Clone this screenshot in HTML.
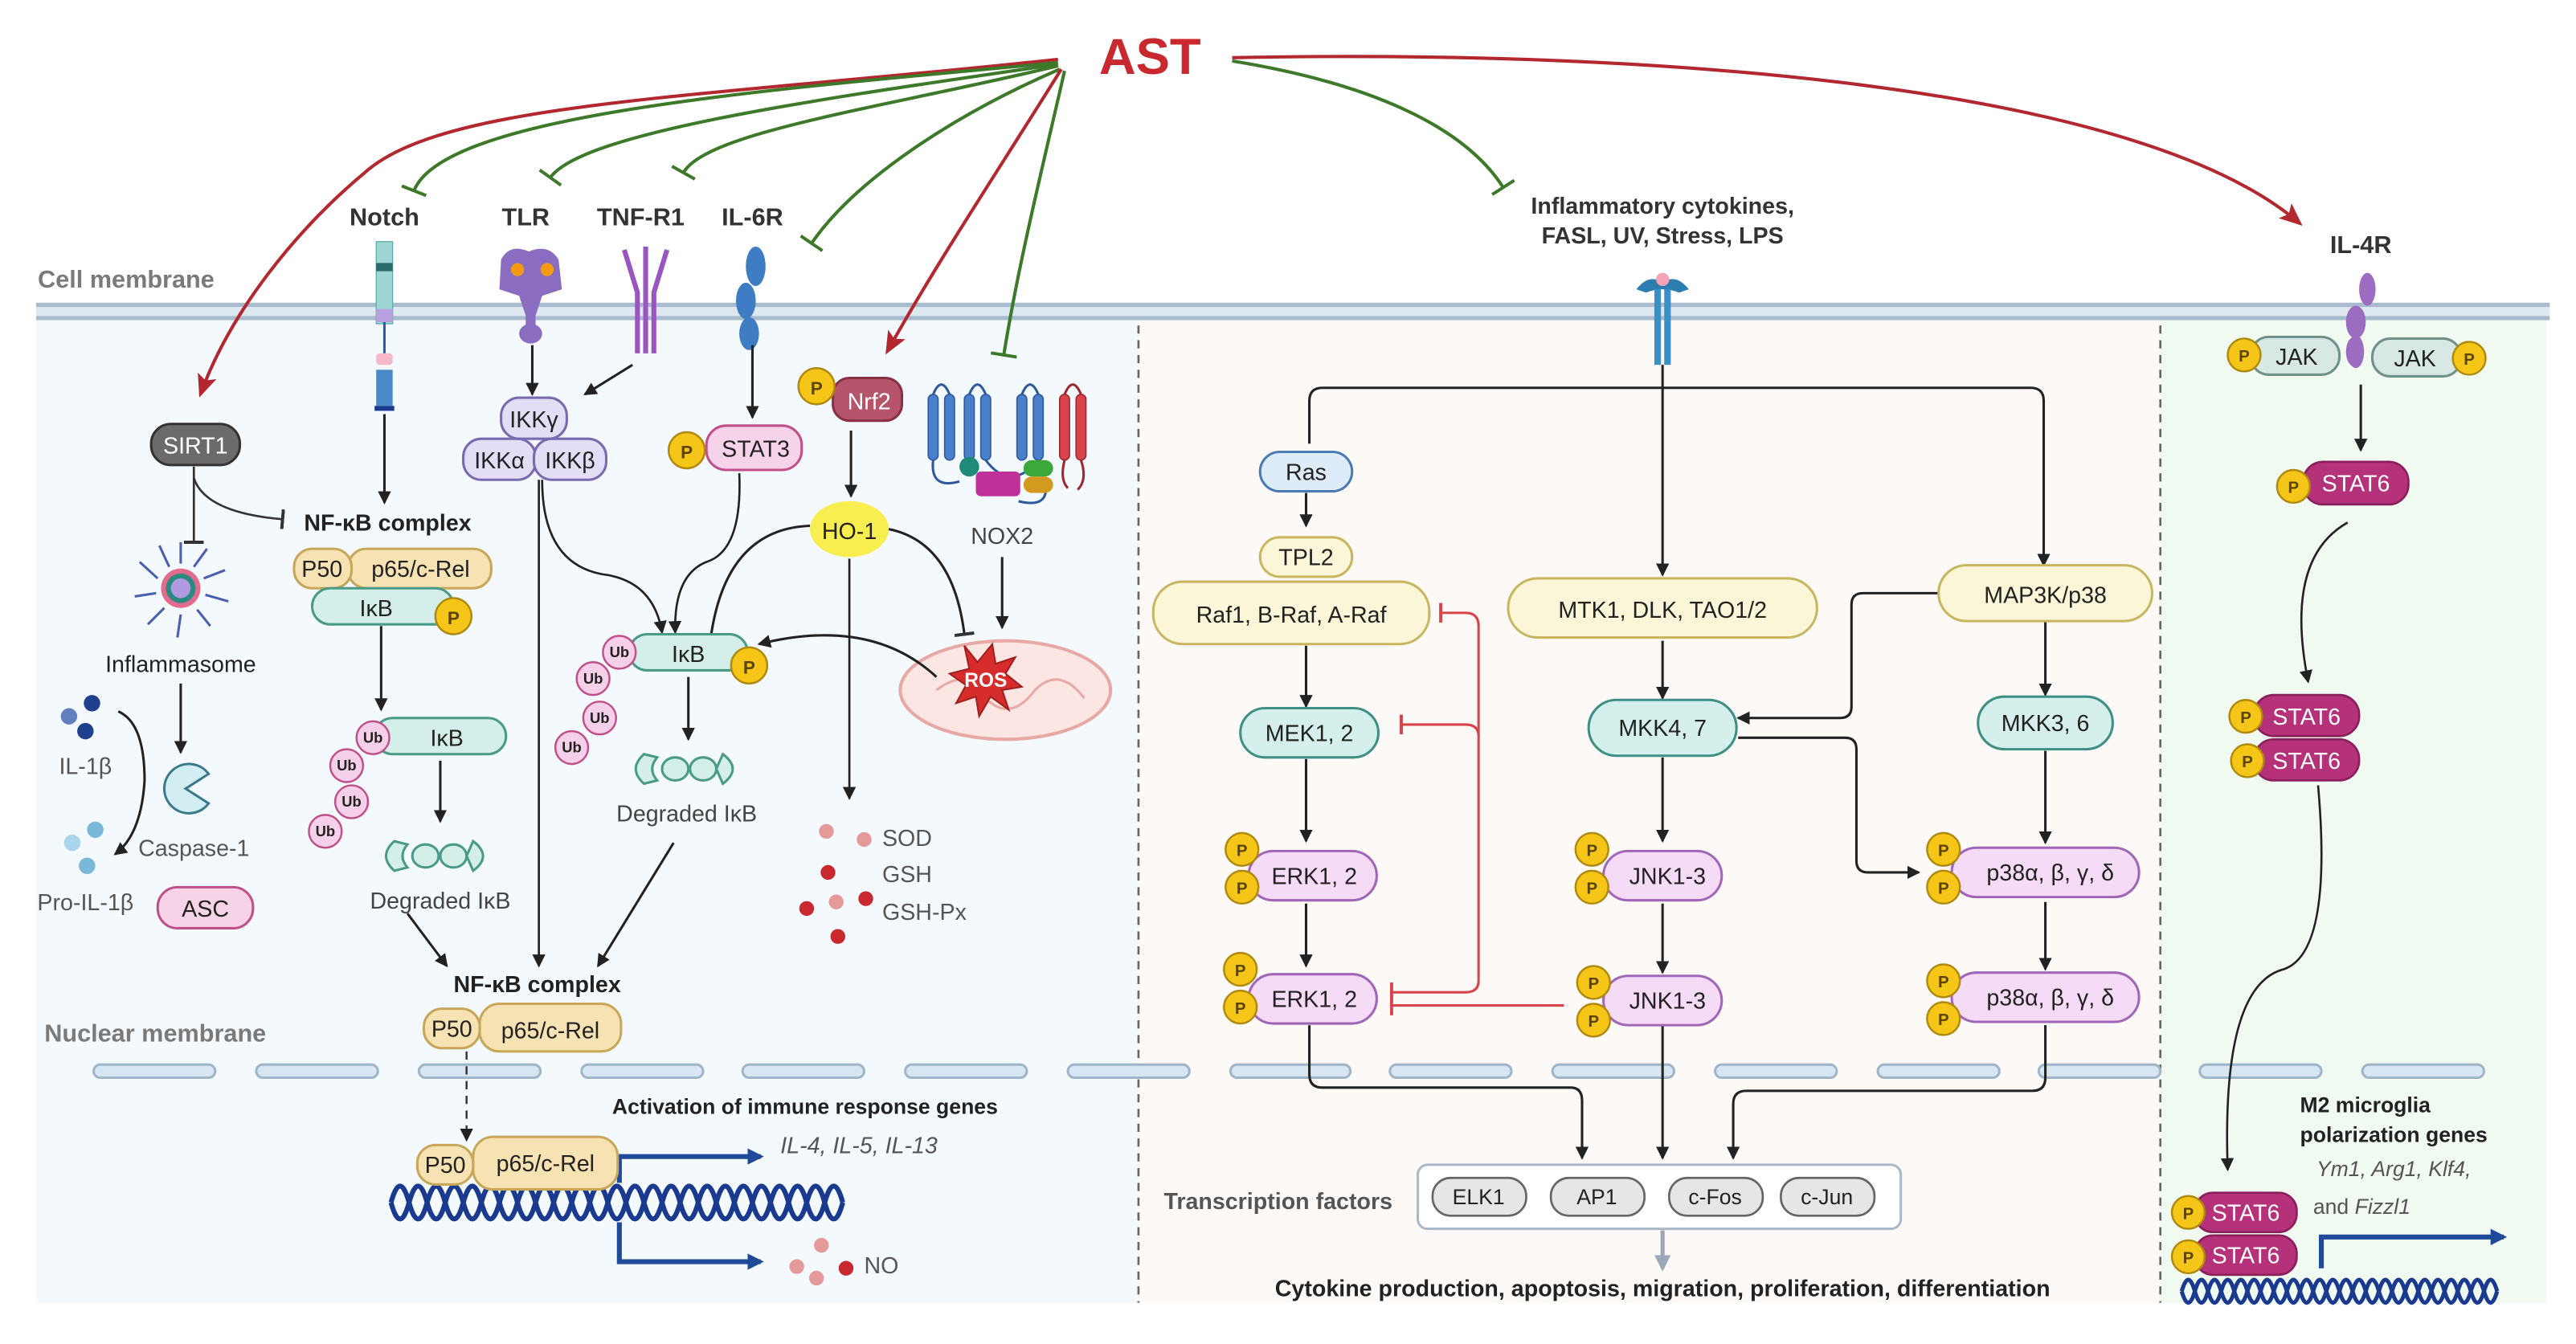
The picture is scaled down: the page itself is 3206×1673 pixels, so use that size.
<!DOCTYPE html>
<html><head><meta charset="utf-8"><style>
html,body{margin:0;padding:0;background:#fff;overflow:hidden;}
svg{display:block;}
text{font-family:"Liberation Sans",sans-serif;}
</style></head><body>
<svg width="3206" height="1673" viewBox="0 0 1568 818" xmlns="http://www.w3.org/2000/svg">
<defs>
<marker id="ak" markerWidth="8" markerHeight="8" refX="7" refY="4" orient="auto" markerUnits="userSpaceOnUse"><path d="M0,0 L8,4 L0,8 z" fill="#222"/></marker>
<marker id="ar" markerWidth="14" markerHeight="12" refX="12" refY="6" orient="auto" markerUnits="userSpaceOnUse"><path d="M0,0 L14,6 L0,12 L3,6 z" fill="#b3282f"/></marker>
<marker id="ab" markerWidth="10" markerHeight="10" refX="8" refY="5" orient="auto" markerUnits="userSpaceOnUse"><path d="M0,0 L10,5 L0,10 z" fill="#1f4a9a"/></marker>
<marker id="ag" markerWidth="10" markerHeight="10" refX="8" refY="5" orient="auto" markerUnits="userSpaceOnUse"><path d="M0,0 L10,5 L0,10 z" fill="#9aa8b8"/></marker>
<marker id="tg" markerWidth="2" markerHeight="16" refX="1" refY="8" orient="auto" markerUnits="userSpaceOnUse"><rect x="0" y="0" width="2" height="16" fill="#3c7a2a"/></marker>
<marker id="tk" markerWidth="2" markerHeight="12" refX="1" refY="6" orient="auto" markerUnits="userSpaceOnUse"><rect x="0" y="0" width="2" height="12" fill="#333"/></marker>
<marker id="trd" markerWidth="2" markerHeight="12" refX="1" refY="6" orient="auto" markerUnits="userSpaceOnUse"><rect x="0" y="0" width="2" height="12" fill="#d9444a"/></marker>
</defs>

<rect x="22" y="192" width="671" height="601" fill="#f3f9fd"/>
<rect x="693" y="192" width="622" height="601" fill="#fdf9f6"/>
<rect x="1315" y="192" width="235" height="601" fill="#f1faf1"/>
<rect x="22" y="184" width="1530" height="11" fill="#dde8f1"/>
<line x1="22" y1="185.5" x2="1552" y2="185.5" stroke="#a9bccd" stroke-width="2.5"/>
<line x1="22" y1="193.5" x2="1552" y2="193.5" stroke="#a9bccd" stroke-width="2.5"/>
<line x1="693" y1="198" x2="693" y2="793" stroke="#666" stroke-width="1.3" stroke-dasharray="5,4"/>
<line x1="1315" y1="198" x2="1315" y2="793" stroke="#666" stroke-width="1.3" stroke-dasharray="5,4"/>
<g fill="#d7e6f2" stroke="#9fb6ca" stroke-width="1.5">
<rect x="57" y="648" width="74" height="8" rx="4"/><rect x="156" y="648" width="74" height="8" rx="4"/><rect x="255" y="648" width="74" height="8" rx="4"/><rect x="354" y="648" width="74" height="8" rx="4"/><rect x="452" y="648" width="74" height="8" rx="4"/><rect x="551" y="648" width="74" height="8" rx="4"/><rect x="650" y="648" width="74" height="8" rx="4"/><rect x="749" y="648" width="73" height="8" rx="4"/><rect x="846" y="648" width="74" height="8" rx="4"/><rect x="945" y="648" width="74" height="8" rx="4"/><rect x="1044" y="648" width="74" height="8" rx="4"/><rect x="1143" y="648" width="74" height="8" rx="4"/><rect x="1241" y="648" width="74" height="8" rx="4"/><rect x="1339" y="648" width="74" height="8" rx="4"/><rect x="1438" y="648" width="74" height="8" rx="4"/>
</g>

<text x="700" y="45" font-size="31" font-weight="bold" fill="#c8282e" text-anchor="middle">AST</text>
<g fill="none" stroke-width="2">
<path d="M644,36 C420,60 270,62 222,105 C180,140 140,190 122,240" stroke="#b3282f" marker-end="url(#ar)"/>
<path d="M644,38 C460,55 270,70 252,116" stroke="#3c7a2a" marker-end="url(#tg)"/>
<path d="M644,39 C500,60 355,80 335,108" stroke="#3c7a2a" marker-end="url(#tg)"/>
<path d="M644,40 C540,65 430,80 416,105" stroke="#3c7a2a" marker-end="url(#tg)"/>
<path d="M645,42 C580,70 520,110 494,148" stroke="#3c7a2a" marker-end="url(#tg)"/>
<path d="M646,42 C610,100 570,160 540,214" stroke="#b3282f" marker-end="url(#ar)"/>
<path d="M648,43 C635,100 620,160 611,216" stroke="#3c7a2a" marker-end="url(#tg)"/>
<path d="M750,37 C830,50 890,75 915,114" stroke="#3c7a2a" marker-end="url(#tg)"/>
<path d="M750,35 C1000,30 1300,50 1400,136" stroke="#b3282f" marker-end="url(#ar)"/>
</g>

<g font-size="15" font-weight="bold" fill="#333" text-anchor="middle">
<text x="234" y="137">Notch</text><text x="320" y="137">TLR</text><text x="390" y="137">TNF-R1</text><text x="458" y="137">IL-6R</text>
<text x="1012" y="130" font-size="14">Inflammatory cytokines,</text>
<text x="1012" y="148" font-size="14">FASL, UV, Stress, LPS</text>
<text x="1437" y="154">IL-4R</text>
</g>
<text x="23" y="175" font-size="15" font-weight="bold" fill="#7a7a7a">Cell membrane</text>
<text x="27" y="634" font-size="15" font-weight="bold" fill="#7a7a7a">Nuclear membrane</text>

<g>
<rect x="229" y="147" width="10" height="50" fill="#9fd5d3" stroke="#5aa" stroke-width="0.6"/>
<rect x="229" y="160" width="10" height="5" fill="#2a6a6a"/>
<rect x="229" y="188" width="10" height="8" fill="#b8a0e0"/>
<line x1="234" y1="196" x2="234" y2="215" stroke="#2a5fa0" stroke-width="1.5"/>
<rect x="229" y="215" width="10" height="7" rx="2" fill="#f5b9c8"/>
<rect x="229" y="225" width="10" height="22" fill="#4a8ac8"/>
<rect x="228" y="247" width="12" height="3" fill="#1a3a8f"/>
</g>
<g fill="#8a6cc0">
<path d="M305,158 Q310,148 322,153 Q334,148 340,158 L342,176 L330,180 L326,192 L326,200 L320,200 L320,192 L316,180 L304,176 Z"/>
<ellipse cx="323" cy="203" rx="7" ry="6"/>
<circle cx="315" cy="164" r="4" fill="#f39a12"/><circle cx="333" cy="164" r="4" fill="#f39a12"/>
</g>
<g stroke="#9b55bf" stroke-width="3" fill="none">
<path d="M380,152 L388,178 L388,215"/><path d="M406,152 L398,178 L398,215"/><line x1="393" y1="150" x2="393" y2="215"/>
</g>
<g fill="#3e7cc4"><ellipse cx="460" cy="162" rx="6" ry="12"/><ellipse cx="454" cy="183" rx="6" ry="11"/><ellipse cx="456" cy="203" rx="6" ry="10"/></g>
<g>
<path d="M996,176 Q1004,166 1012,172 Q1020,166 1028,176 L1022,178 Q1012,174 1002,178 Z" fill="#2c7db0"/>
<rect x="1007" y="176" width="4" height="46" fill="#3a8fc4"/><rect x="1013" y="176" width="4" height="46" fill="#3a8fc4"/>
<circle cx="1012" cy="170" r="4" fill="#f5a3b5"/>
</g>
<g fill="#9b6cc0"><ellipse cx="1441" cy="176" rx="5" ry="10"/><ellipse cx="1434" cy="196" rx="6" ry="10"/><ellipse cx="1434" cy="214" rx="5" ry="10"/></g>

<g font-size="14" text-anchor="middle" fill="#222">
<rect x="92" y="258" width="54" height="25" rx="12" fill="#6b6b6b" stroke="#333" stroke-width="1.5"/>
<text x="119" y="276" fill="#fff">SIRT1</text>
<text x="236" y="323" font-weight="bold">NF-κB complex</text>
<rect x="212" y="334" width="87" height="24" rx="11" fill="#f6e2b3" stroke="#c9a75a" stroke-width="1.5"/>
<rect x="179" y="334" width="35" height="24" rx="11" fill="#f6e2b3" stroke="#c9a75a" stroke-width="1.5"/>
<text x="196" y="351">P50</text><text x="256" y="351">p65/c-Rel</text>
<rect x="190" y="358" width="86" height="22" rx="11" fill="#d4efe9" stroke="#4a9a88" stroke-width="1.5"/>
<text x="229" y="375">IκB</text>
<circle cx="276" cy="375" r="11" fill="#f5c518" stroke="#b08a10" stroke-width="1.2"/>
<text x="276" y="380" font-size="11" font-weight="bold" fill="#5a4500">P</text>

<g stroke="#4a5fb0" stroke-width="1.5">
<line x1="110" y1="343" x2="110" y2="330"/><line x1="118" y1="345" x2="126" y2="334"/><line x1="124" y1="352" x2="137" y2="347"/><line x1="125" y1="362" x2="139" y2="366"/><line x1="120" y1="371" x2="128" y2="381"/><line x1="110" y1="374" x2="108" y2="388"/><line x1="100" y1="370" x2="90" y2="380"/><line x1="95" y1="361" x2="82" y2="363"/><line x1="96" y1="352" x2="85" y2="342"/><line x1="103" y1="345" x2="97" y2="332"/>
</g>
<circle cx="110" cy="358" r="12" fill="#e36b8e"/><circle cx="110" cy="358" r="9" fill="#2a8a82"/><circle cx="110" cy="358" r="6" fill="#b09ae0"/>
<text x="110" y="409">Inflammasome</text>
<line x1="118" y1="284" x2="118" y2="330" stroke="#333" stroke-width="1.3" marker-end="url(#tk)"/>
<path d="M118,291 Q125,312 172,316" fill="none" stroke="#333" stroke-width="1.3" marker-end="url(#tk)"/>
<line x1="110" y1="416" x2="110" y2="458" stroke="#222" stroke-width="1.5" marker-end="url(#ak)"/>
<path d="M113,480 L127,471 A15,15 0 1 0 127,489 Z" fill="#d3eef3" stroke="#3a7a8a" stroke-width="1.5"/>
<text x="118" y="521" fill="#555">Caspase-1</text>
<circle cx="56" cy="428" r="5" fill="#1f3f8f"/><circle cx="42" cy="436" r="5" fill="#6080c0"/><circle cx="52" cy="445" r="5" fill="#1f3f8f"/>
<text x="52" y="471" fill="#555">IL-1β</text>
<path d="M72,433 Q88,440 88,475 Q86,508 70,520" fill="none" stroke="#222" stroke-width="1.5" marker-end="url(#ak)"/>
<circle cx="58" cy="505" r="5" fill="#7ab8da"/><circle cx="44" cy="513" r="5" fill="#a9d6ea"/><circle cx="53" cy="527" r="5" fill="#7ab8da"/>
<text x="52" y="554" fill="#555">Pro-IL-1β</text>
<rect x="96" y="540" width="58" height="25" rx="12" fill="#f7d3e8" stroke="#c0508a" stroke-width="1.5"/>
<text x="125" y="558">ASC</text>

<line x1="234" y1="252" x2="234" y2="306" stroke="#222" stroke-width="1.5" marker-end="url(#ak)"/>
<line x1="232" y1="381" x2="232" y2="432" stroke="#222" stroke-width="1.5" marker-end="url(#ak)"/>
<rect x="228" y="437" width="80" height="22" rx="11" fill="#d4efe9" stroke="#4a9a88" stroke-width="1.5"/>
<text x="272" y="454">IκB</text>
<g font-size="9" font-weight="bold">
<circle cx="227" cy="449" r="10" fill="#f6d0e8" stroke="#c0508a" stroke-width="1.2"/><text x="227" y="452">Ub</text>
<circle cx="211" cy="466" r="10" fill="#f6d0e8" stroke="#c0508a" stroke-width="1.2"/><text x="211" y="469">Ub</text>
<circle cx="214" cy="488" r="10" fill="#f6d0e8" stroke="#c0508a" stroke-width="1.2"/><text x="214" y="491">Ub</text>
<circle cx="198" cy="506" r="10" fill="#f6d0e8" stroke="#c0508a" stroke-width="1.2"/><text x="198" y="509">Ub</text>
</g>
<line x1="268" y1="463" x2="268" y2="500" stroke="#222" stroke-width="1.5" marker-end="url(#ak)"/>
<g fill="#d4efe9" stroke="#4a9a88" stroke-width="1.5">
<path d="M240,512 Q230,521 240,530 L248,528 Q242,521 248,514 Z"/>
<ellipse cx="259" cy="521" rx="8" ry="7"/><ellipse cx="276" cy="521" rx="8" ry="7"/>
<path d="M288,512 Q300,521 288,530 L284,521 Z"/>
</g>
<text x="268" y="553" fill="#444">Degraded IκB</text>
<line x1="248" y1="556" x2="272" y2="588" stroke="#222" stroke-width="1.5" marker-end="url(#ak)"/>

<line x1="324" y1="210" x2="324" y2="240" stroke="#222" stroke-width="1.5" marker-end="url(#ak)"/>
<line x1="385" y1="222" x2="356" y2="240" stroke="#222" stroke-width="1.5" marker-end="url(#ak)"/>
<rect x="305" y="242" width="40" height="25" rx="11" fill="#e3def5" stroke="#7a6ab0" stroke-width="1.5"/>
<text x="325" y="260">IKKγ</text>
<rect x="282" y="267" width="44" height="25" rx="11" fill="#e3def5" stroke="#7a6ab0" stroke-width="1.5"/>
<rect x="325" y="267" width="44" height="25" rx="11" fill="#e3def5" stroke="#7a6ab0" stroke-width="1.5"/>
<text x="304" y="285">IKKα</text><text x="347" y="285">IKKβ</text>
<line x1="328" y1="292" x2="328" y2="588" stroke="#222" stroke-width="1.3" marker-end="url(#ak)"/>
<path d="M330,292 Q330,345 370,350 Q398,355 403,385" fill="none" stroke="#222" stroke-width="1.3" marker-end="url(#ak)"/>

<line x1="458" y1="210" x2="458" y2="254" stroke="#222" stroke-width="1.5" marker-end="url(#ak)"/>
<rect x="430" y="259" width="58" height="27" rx="12" fill="#f7d3ea" stroke="#c0508a" stroke-width="1.5"/>
<text x="460" y="278">STAT3</text>
<circle cx="418" cy="274" r="11" fill="#f5c518" stroke="#b08a10" stroke-width="1.2"/>
<text x="418" y="279" font-size="11" font-weight="bold" fill="#5a4500">P</text>
<path d="M450,288 Q452,335 430,342 Q410,350 411,385" fill="none" stroke="#222" stroke-width="1.3" marker-end="url(#ak)"/>

<rect x="507" y="230" width="42" height="26" rx="10" fill="#b5546a" stroke="#8a3045" stroke-width="1.5"/>
<text x="529" y="249" fill="#fff">Nrf2</text>
<circle cx="497" cy="235" r="11" fill="#f5c518" stroke="#b08a10" stroke-width="1.2"/>
<text x="497" y="240" font-size="11" font-weight="bold" fill="#5a4500">P</text>
<line x1="518" y1="262" x2="518" y2="302" stroke="#222" stroke-width="1.5" marker-end="url(#ak)"/>
<ellipse cx="517" cy="322" rx="24" ry="17" fill="#f8ee4f"/>
<text x="517" y="328">HO-1</text>
<path d="M493,320 Q440,322 432,393" fill="none" stroke="#222" stroke-width="1.5" marker-end="url(#tk)"/>
<path d="M541,322 Q580,330 587,386" fill="none" stroke="#222" stroke-width="1.5" marker-end="url(#tk)"/>
<line x1="517" y1="340" x2="517" y2="486" stroke="#222" stroke-width="1.3" marker-end="url(#ak)"/>

<g fill="#4a7fcc" stroke="#2d5a9e" stroke-width="0.8">
<rect x="565" y="240" width="6" height="40" rx="3"/><rect x="575" y="240" width="6" height="40" rx="3"/><rect x="587" y="240" width="6" height="40" rx="3"/><rect x="597" y="240" width="6" height="40" rx="3"/><rect x="619" y="240" width="6" height="40" rx="3"/><rect x="629" y="240" width="6" height="40" rx="3"/>
</g>
<g fill="none" stroke="#2d5a9e" stroke-width="1.5"><path d="M568,240 Q573,228 578,240"/><path d="M590,240 Q595,228 600,240"/><path d="M622,240 Q627,228 632,240"/><path d="M600,280 Q615,300 632,280"/><path d="M568,280 Q566,298 584,293"/><path d="M636,292 Q640,310 620,305"/></g>
<g fill="#d9434a" stroke="#9a2a30" stroke-width="0.8"><rect x="645" y="240" width="6" height="40" rx="3"/><rect x="655" y="240" width="6" height="40" rx="3"/></g>
<path d="M648,240 Q653,228 658,240 M648,280 Q645,292 650,297 M658,280 Q662,292 656,298" fill="none" stroke="#9a2a30" stroke-width="1.5"/>
<circle cx="590" cy="284" r="6" fill="#1f8a78"/>
<rect x="594" y="287" width="27" height="15" rx="3" fill="#c0309a"/>
<rect x="623" y="280" width="18" height="10" rx="5" fill="#3aa83a"/>
<rect x="623" y="290" width="18" height="10" rx="5" fill="#d49a20"/>
<text x="610" y="331" fill="#444">NOX2</text>
<line x1="610" y1="339" x2="610" y2="382" stroke="#222" stroke-width="1.5" marker-end="url(#ak)"/>
<ellipse cx="612" cy="420" rx="64" ry="30" fill="#fbe6e4" stroke="#e8a8a4" stroke-width="2"/>
<path d="M570,420 Q590,405 600,425 Q615,440 630,420 Q645,405 660,425" fill="none" stroke="#e8a8a4" stroke-width="1.5"/>
<path d="M587,393 L595,403 L604,392 L606,404 L618,400 L612,410 L622,418 L610,420 L614,432 L603,424 L596,436 L594,424 L582,428 L588,417 L578,410 L590,407 Z" fill="#d72c2c" stroke="#a01f1f"/>
<text x="600" y="418" font-size="12" font-weight="bold" fill="#fff">ROS</text>
<path d="M570,412 Q530,375 462,392" fill="none" stroke="#222" stroke-width="1.5" marker-end="url(#ak)"/>
<rect x="383" y="386" width="72" height="22" rx="11" fill="#d4efe9" stroke="#4a9a88" stroke-width="1.5"/>
<text x="419" y="403">IκB</text>
<circle cx="456" cy="405" r="11" fill="#f5c518" stroke="#b08a10" stroke-width="1.2"/>
<text x="456" y="410" font-size="11" font-weight="bold" fill="#5a4500">P</text>
<g font-size="9" font-weight="bold">
<circle cx="377" cy="397" r="10" fill="#f6d0e8" stroke="#c0508a" stroke-width="1.2"/><text x="377" y="400">Ub</text>
<circle cx="361" cy="413" r="10" fill="#f6d0e8" stroke="#c0508a" stroke-width="1.2"/><text x="361" y="416">Ub</text>
<circle cx="365" cy="437" r="10" fill="#f6d0e8" stroke="#c0508a" stroke-width="1.2"/><text x="365" y="440">Ub</text>
<circle cx="348" cy="455" r="10" fill="#f6d0e8" stroke="#c0508a" stroke-width="1.2"/><text x="348" y="458">Ub</text>
</g>
<line x1="419" y1="412" x2="419" y2="450" stroke="#222" stroke-width="1.5" marker-end="url(#ak)"/>
<g fill="#d4efe9" stroke="#4a9a88" stroke-width="1.5">
<path d="M392,459 Q382,468 392,477 L400,475 Q394,468 400,461 Z"/>
<ellipse cx="411" cy="468" rx="8" ry="7"/><ellipse cx="428" cy="468" rx="8" ry="7"/>
<path d="M440,459 Q452,468 440,477 L436,468 Z"/>
</g>
<text x="418" y="500" fill="#444">Degraded IκB</text>
<line x1="410" y1="513" x2="364" y2="588" stroke="#222" stroke-width="1.5" marker-end="url(#ak)"/>
<circle cx="503" cy="506" r="4.5" fill="#e59a9a"/><circle cx="526" cy="511" r="4.5" fill="#e59a9a"/><circle cx="504" cy="531" r="4.5" fill="#c8282e"/>
<circle cx="491" cy="553" r="4.5" fill="#c8282e"/><circle cx="509" cy="549" r="4.5" fill="#e59a9a"/><circle cx="527" cy="547" r="4.5" fill="#c8282e"/><circle cx="510" cy="570" r="4.5" fill="#c8282e"/>
<g text-anchor="start" fill="#555"><text x="537" y="515">SOD</text><text x="537" y="537">GSH</text><text x="537" y="560">GSH-Px</text></g>

<text x="327" y="604" font-weight="bold">NF-κB complex</text>
<rect x="292" y="611" width="86" height="29" rx="12" fill="#f6e2b3" stroke="#c9a75a" stroke-width="1.5"/>
<rect x="258" y="614" width="34" height="24" rx="11" fill="#f6e2b3" stroke="#c9a75a" stroke-width="1.5"/>
<text x="275" y="631">P50</text><text x="335" y="632">p65/c-Rel</text>
<line x1="284" y1="640" x2="284" y2="694" stroke="#333" stroke-width="1.2" stroke-dasharray="5,4" marker-end="url(#ak)"/>
<text x="490" y="678" font-size="13" font-weight="bold">Activation of immune response genes</text>
<g fill="none" stroke="#1a3a8f" stroke-width="3">
<path d="M238,732 q5.5,-20 11,0 t11,0 t11,0 t11,0 t11,0 t11,0 t11,0 t11,0 t11,0 t11,0 t11,0 t11,0 t11,0 t11,0 t11,0 t11,0 t11,0 t11,0 t11,0 t11,0 t11,0 t11,0 t11,0 t11,0 t11,0"/>
<path d="M238,732 q5.5,20 11,0 t11,0 t11,0 t11,0 t11,0 t11,0 t11,0 t11,0 t11,0 t11,0 t11,0 t11,0 t11,0 t11,0 t11,0 t11,0 t11,0 t11,0 t11,0 t11,0 t11,0 t11,0 t11,0 t11,0 t11,0"/>
</g>
<path d="M377,720 V704 H463" fill="none" stroke="#1f4a9a" stroke-width="3" marker-end="url(#ab)"/>
<path d="M377,744 V768 H463" fill="none" stroke="#1f4a9a" stroke-width="3" marker-end="url(#ab)"/>
<rect x="288" y="692" width="88" height="32" rx="12" fill="#f6e2b3" stroke="#c9a75a" stroke-width="1.5"/>
<rect x="254" y="697" width="34" height="24" rx="11" fill="#f6e2b3" stroke="#c9a75a" stroke-width="1.5"/>
<text x="271" y="714">P50</text><text x="332" y="713">p65/c-Rel</text>
<text x="475" y="702" font-style="italic" fill="#555" text-anchor="start">IL-4, IL-5, IL-13</text>
<circle cx="485" cy="771" r="4.5" fill="#e59a9a"/><circle cx="500" cy="758" r="4.5" fill="#e59a9a"/><circle cx="497" cy="778" r="4.5" fill="#e59a9a"/><circle cx="515" cy="772" r="4.5" fill="#c8282e"/>
<text x="526" y="775" fill="#555" text-anchor="start">NO</text>

<g fill="none" stroke="#222" stroke-width="1.5">
<path d="M1012,222 V350" marker-end="url(#ak)"/>
<path d="M797,270 V244 Q797,236 805,236 H1236 Q1244,236 1244,244 V344" marker-end="url(#ak)"/>
<path d="M795,300 V320" marker-end="url(#ak)"/>
<path d="M795,393 V430" marker-end="url(#ak)"/>
<path d="M1012,390 V425" marker-end="url(#ak)"/>
<path d="M1245,378 V423" marker-end="url(#ak)"/>
<path d="M1180,361 H1134 Q1127,361 1127,368 V430 Q1127,437 1120,437 H1058" marker-end="url(#ak)"/>
<path d="M1058,449 H1123 Q1130,449 1130,456 V524 Q1130,531 1137,531 H1168" marker-end="url(#ak)"/>
<path d="M795,462 V512" marker-end="url(#ak)"/>
<path d="M1012,461 V512" marker-end="url(#ak)"/>
<path d="M1245,457 V513" marker-end="url(#ak)"/>
<path d="M795,550 V588" marker-end="url(#ak)"/>
<path d="M1012,550 V592" marker-end="url(#ak)"/>
<path d="M1245,549 V590" marker-end="url(#ak)"/>
<path d="M797,624 V654 Q797,662 805,662 H956 Q963,662 963,670 V705" marker-end="url(#ak)"/>
<path d="M1012,624 V705" marker-end="url(#ak)"/>
<path d="M1245,624 V656 Q1245,664 1237,664 H1063 Q1055,664 1055,672 V705" marker-end="url(#ak)"/>
</g>
<g fill="none" stroke="#d9444a" stroke-width="1.5">
<path d="M877,373 H892 Q900,373 900,381 V597 Q900,604 892,604 H847" marker-end="url(#trd)"/>
<path d="M900,448 Q900,441 892,441 H853" marker-end="url(#trd)"/>
<path d="M878,373 H877" marker-end="url(#trd)"/>
<path d="M952,612 H847" marker-end="url(#trd)"/>
</g>
<rect x="767" y="275" width="56" height="24" rx="12" fill="#deebf8" stroke="#4a7bb5" stroke-width="1.5"/><text x="795" y="292">Ras</text>
<rect x="767" y="327" width="56" height="24" rx="12" fill="#fbf6d8" stroke="#c8b660" stroke-width="1.5"/><text x="795" y="344">TPL2</text>
<rect x="702" y="354" width="168" height="38" rx="18" fill="#fbf6d8" stroke="#c8b660" stroke-width="1.5"/><text x="786" y="379">Raf1, B-Raf, A-Raf</text>
<rect x="918" y="352" width="188" height="36" rx="18" fill="#fbf6d8" stroke="#c8b660" stroke-width="1.5"/><text x="1012" y="376">MTK1, DLK, TAO1/2</text>
<rect x="1180" y="344" width="130" height="34" rx="17" fill="#fbf6d8" stroke="#c8b660" stroke-width="1.5"/><text x="1245" y="367">MAP3K/p38</text>
<rect x="755" y="431" width="84" height="30" rx="15" fill="#d4efec" stroke="#3f8f84" stroke-width="1.5"/><text x="797" y="451">MEK1, 2</text>
<rect x="967" y="426" width="90" height="34" rx="17" fill="#d4efec" stroke="#3f8f84" stroke-width="1.5"/><text x="1012" y="448">MKK4, 7</text>
<rect x="1204" y="424" width="82" height="32" rx="16" fill="#d4efec" stroke="#3f8f84" stroke-width="1.5"/><text x="1245" y="445">MKK3, 6</text>
<g stroke-width="1.5">
<rect x="760" y="518" width="78" height="30" rx="15" fill="#f5dbf5" stroke="#a066b8"/><text x="800" y="538">ERK1, 2</text>
<rect x="976" y="518" width="72" height="30" rx="15" fill="#f5dbf5" stroke="#a066b8"/><text x="1015" y="538">JNK1-3</text>
<rect x="1188" y="516" width="114" height="30" rx="15" fill="#f5dbf5" stroke="#a066b8"/><text x="1248" y="536">p38α, β, γ, δ</text>
<rect x="760" y="593" width="78" height="30" rx="15" fill="#f5dbf5" stroke="#a066b8"/><text x="800" y="613">ERK1, 2</text>
<rect x="976" y="594" width="72" height="30" rx="15" fill="#f5dbf5" stroke="#a066b8"/><text x="1015" y="614">JNK1-3</text>
<rect x="1188" y="592" width="114" height="30" rx="15" fill="#f5dbf5" stroke="#a066b8"/><text x="1248" y="612">p38α, β, γ, δ</text>
</g>
<g font-size="10" font-weight="bold" fill="#5a4500">
<circle cx="756" cy="517" r="10" fill="#f5c518" stroke="#b08a10" stroke-width="1.2"/><text x="756" y="521">P</text>
<circle cx="756" cy="540" r="10" fill="#f5c518" stroke="#b08a10" stroke-width="1.2"/><text x="756" y="544">P</text>
<circle cx="969" cy="517" r="10" fill="#f5c518" stroke="#b08a10" stroke-width="1.2"/><text x="969" y="521">P</text>
<circle cx="969" cy="540" r="10" fill="#f5c518" stroke="#b08a10" stroke-width="1.2"/><text x="969" y="544">P</text>
<circle cx="1183" cy="517" r="10" fill="#f5c518" stroke="#b08a10" stroke-width="1.2"/><text x="1183" y="521">P</text>
<circle cx="1183" cy="540" r="10" fill="#f5c518" stroke="#b08a10" stroke-width="1.2"/><text x="1183" y="544">P</text>
<circle cx="755" cy="590" r="10" fill="#f5c518" stroke="#b08a10" stroke-width="1.2"/><text x="755" y="594">P</text>
<circle cx="755" cy="613" r="10" fill="#f5c518" stroke="#b08a10" stroke-width="1.2"/><text x="755" y="617">P</text>
<circle cx="970" cy="598" r="10" fill="#f5c518" stroke="#b08a10" stroke-width="1.2"/><text x="970" y="602">P</text>
<circle cx="970" cy="621" r="10" fill="#f5c518" stroke="#b08a10" stroke-width="1.2"/><text x="970" y="625">P</text>
<circle cx="1183" cy="597" r="10" fill="#f5c518" stroke="#b08a10" stroke-width="1.2"/><text x="1183" y="601">P</text>
<circle cx="1183" cy="620" r="10" fill="#f5c518" stroke="#b08a10" stroke-width="1.2"/><text x="1183" y="624">P</text>
</g>
<rect x="863" y="709" width="294" height="39" rx="6" fill="#fff" stroke="#aab8c8" stroke-width="1.5"/>
<g fill="#e6e6e6" stroke="#666" stroke-width="1.3">
<rect x="872" y="717" width="57" height="23" rx="11"/><rect x="944" y="717" width="57" height="23" rx="11"/><rect x="1016" y="717" width="57" height="23" rx="11"/><rect x="1084" y="717" width="57" height="23" rx="11"/>
</g>
<g font-size="13"><text x="900" y="733">ELK1</text><text x="972" y="733">AP1</text><text x="1044" y="733">c-Fos</text><text x="1112" y="733">c-Jun</text></g>
<text x="778" y="736" font-weight="bold" fill="#555">Transcription factors</text>
<line x1="1012" y1="749" x2="1012" y2="772" stroke="#9aa8b8" stroke-width="2.5" marker-end="url(#ag)"/>
<text x="1012" y="789" font-weight="bold">Cytokine production, apoptosis, migration, proliferation, differentiation</text>

<rect x="1370" y="205" width="54" height="23" rx="11" fill="#d8e8e4" stroke="#6e928a" stroke-width="1.5"/><text x="1398" y="222">JAK</text>
<rect x="1444" y="206" width="54" height="23" rx="11" fill="#d8e8e4" stroke="#6e928a" stroke-width="1.5"/><text x="1470" y="223">JAK</text>
<g font-size="10" font-weight="bold" fill="#5a4500">
<circle cx="1366" cy="216" r="10" fill="#f5c518" stroke="#b08a10" stroke-width="1.2"/><text x="1366" y="220">P</text>
<circle cx="1503" cy="218" r="10" fill="#f5c518" stroke="#b08a10" stroke-width="1.2"/><text x="1503" y="222">P</text>
</g>
<ellipse cx="1433" cy="214" rx="5" ry="9" fill="#9b6cc0"/>
<line x1="1437" y1="234" x2="1437" y2="274" stroke="#222" stroke-width="1.5" marker-end="url(#ak)"/>
<g stroke="#8a1f5c" stroke-width="1.3">
<rect x="1402" y="281" width="64" height="26" rx="12" fill="#b5327a"/>
<rect x="1372" y="423" width="64" height="25" rx="12" fill="#b5327a"/>
<rect x="1372" y="450" width="64" height="25" rx="12" fill="#b5327a"/>
<rect x="1336" y="726" width="62" height="24" rx="11" fill="#b5327a"/>
<rect x="1336" y="752" width="62" height="24" rx="11" fill="#b5327a"/>
</g>
<g fill="#fff"><text x="1434" y="299">STAT6</text><text x="1404" y="441">STAT6</text><text x="1404" y="468">STAT6</text><text x="1367" y="743">STAT6</text><text x="1367" y="769">STAT6</text></g>
<g font-size="10" font-weight="bold" fill="#5a4500">
<circle cx="1396" cy="296" r="10" fill="#f5c518" stroke="#b08a10" stroke-width="1.2"/><text x="1396" y="300">P</text>
<circle cx="1367" cy="436" r="10" fill="#f5c518" stroke="#b08a10" stroke-width="1.2"/><text x="1367" y="440">P</text>
<circle cx="1368" cy="463" r="10" fill="#f5c518" stroke="#b08a10" stroke-width="1.2"/><text x="1368" y="467">P</text>
<circle cx="1332" cy="738" r="10" fill="#f5c518" stroke="#b08a10" stroke-width="1.2"/><text x="1332" y="742">P</text>
<circle cx="1332" cy="765" r="10" fill="#f5c518" stroke="#b08a10" stroke-width="1.2"/><text x="1332" y="769">P</text>
</g>
<path d="M1429,318 Q1390,340 1405,415" fill="none" stroke="#222" stroke-width="1.3" marker-end="url(#ak)"/>
<path d="M1411,478 Q1420,580 1390,590 Q1352,600 1356,712" fill="none" stroke="#222" stroke-width="1.3" marker-end="url(#ak)"/>
<g text-anchor="start" font-size="13">
<text x="1400" y="677" font-weight="bold">M2 microglia</text>
<text x="1400" y="695" font-weight="bold">polarization genes</text>
<text x="1410" y="716" font-style="italic" fill="#555">Ym1, Arg1, Klf4,</text>
<text x="1408" y="739" fill="#555">and <tspan font-style="italic">Fizzl1</tspan></text>
</g>
<path d="M1413,772 V753 H1524" fill="none" stroke="#1f4a9a" stroke-width="3" marker-end="url(#ab)"/>
<g fill="none" stroke="#1a3a8f" stroke-width="2.5">
<path d="M1328,786 q4,-14 8,0 t8,0 t8,0 t8,0 t8,0 t8,0 t8,0 t8,0 t8,0 t8,0 t8,0 t8,0 t8,0 t8,0 t8,0 t8,0 t8,0 t8,0 t8,0 t8,0 t8,0 t8,0 t8,0 t8,0"/>
<path d="M1328,786 q4,14 8,0 t8,0 t8,0 t8,0 t8,0 t8,0 t8,0 t8,0 t8,0 t8,0 t8,0 t8,0 t8,0 t8,0 t8,0 t8,0 t8,0 t8,0 t8,0 t8,0 t8,0 t8,0 t8,0 t8,0"/>
</g>
</g>
</svg>
</body></html>
